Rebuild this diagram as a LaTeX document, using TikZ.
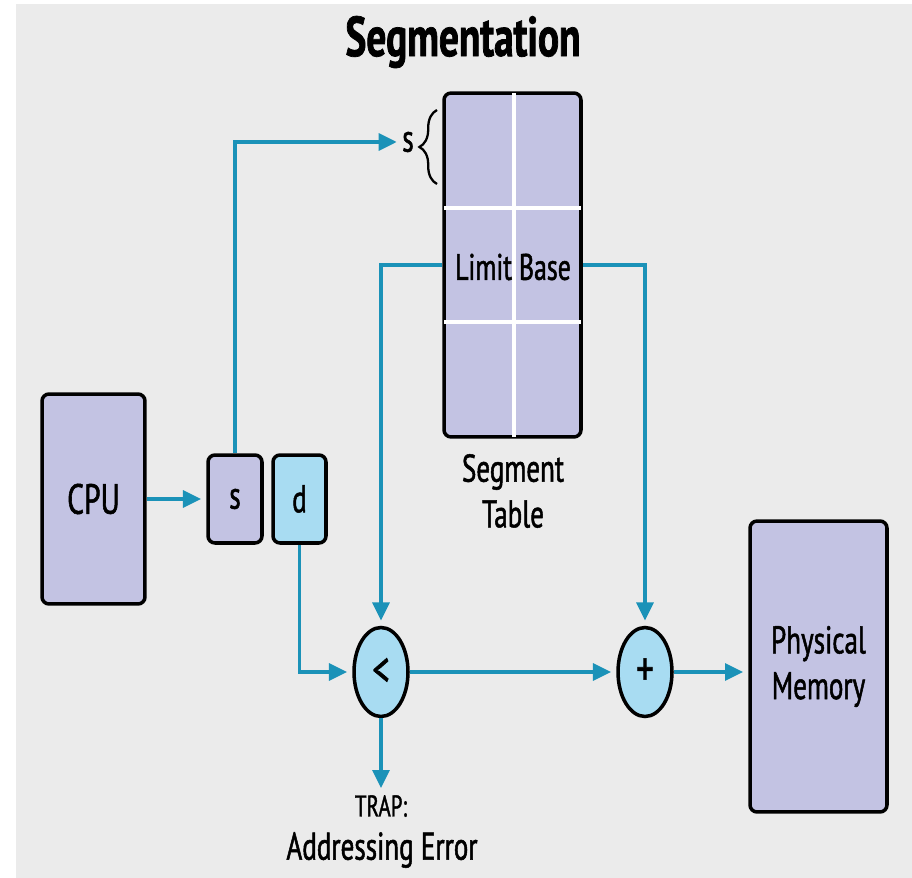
\documentclass[tikz,border=0pt]{standalone}
\usepackage{fontspec}
\setmainfont{PT Sans}[FakeStretch=0.7, FakeBold=1.3]
\usetikzlibrary{arrows.meta,shapes.geometric,decorations.pathreplacing}
\definecolor{bggray}{HTML}{EBEBEB}
\definecolor{lavender}{HTML}{C3C3E3}
\definecolor{skyblue}{HTML}{A8DCF2}
\definecolor{teal}{HTML}{1B92B8}

\begin{document}
\begin{tikzpicture}[
	x=0.02cm, y=-0.02cm,
	box/.style={draw=black, line width=2pt, rounded corners=4pt, fill=lavender, align=center,
		font=\fontsize{22}{26}\selectfont, inner sep=0pt},
	oper/.style={ellipse, draw=black, line width=2pt, fill=skyblue, minimum width=1.08cm,
		minimum height=1.78cm, inner sep=0pt, font=\fontsize{28}{30}\selectfont},
	link/.style={draw=teal, line width=1.9pt, -{Triangle[length=0.36cm,width=0.34cm]}, shorten >=3pt},
	lbl/.style={align=center, inner sep=0pt, font=\fontsize{22}{26}\selectfont}]
\useasboundingbox (0,0) rectangle (912,878);
\fill[bggray] (16,4) rectangle (912,878);

\node[font=\bfseries\fontsize{32}{36}\selectfont] (title) at (463,42) {Segmentation};

% boxes
\node[box, minimum width=2.06cm, minimum height=4.2cm, font=\fontsize{24}{28}\selectfont] (cpu) at (93.5,499) {CPU};
\node[box, minimum width=1.08cm, minimum height=1.76cm] (sbox) at (235,499) {s};
\node[box, fill=skyblue, minimum width=1.06cm, minimum height=1.76cm] (dbox) at (299.5,499) {d};
\node[box, minimum width=2.74cm, minimum height=6.88cm] (table) at (512.5,265) {};
\draw[white, line width=1.8pt, shorten <=1.2pt, shorten >=1.2pt] (table.north -| 514,0) -- (table.south -| 514,0);
\draw[white, line width=1.8pt, shorten <=1.2pt, shorten >=1.2pt] (table.west |- 0,208) -- (table.east |- 0,208);
\draw[white, line width=1.8pt, shorten <=1.2pt, shorten >=1.2pt] (table.west |- 0,322) -- (table.east |- 0,322);
\node[lbl, font=\fontsize{21}{25}\selectfont] (limbase) at (513,267) {Limit Base};
\node[lbl] (tabname) at (513,491) {Segment\\Table};
\node[box, minimum width=2.74cm, minimum height=5.82cm] (mem) at (818.5,666.5) {Physical\\Memory};

% operators
\node[oper] (lt) at (381,672) {<};
\node[oper] (plus) at (645,672) {+};

% s index into table
\node[lbl] (sidx) at (408,142) {s};
\draw[line width=1.3pt, decorate, decoration={brace, amplitude=10pt}] (437,184) -- (437,110);

\coordinate (trap) at (381,788);
\node[lbl, font=\fontsize{17}{20}\selectfont] (traptxt) at (381,806) {TRAP:};
\node[lbl] (adderr) at (382,850) {Addressing Error};

% connectors
\draw[link] (cpu.east) -- (sbox.west);
\draw[link] (sbox.north) |- (sidx.west);
\draw[link] (table.west) -| (lt.north);
\draw[link] (table.east) -| (plus.north);
\draw[link] (dbox.south) |- (lt.west);
\draw[link] (lt.east) -- (plus.west);
\draw[link] (plus.east) -- (plus.east -| mem.west);
\draw[link, shorten >=0pt] (lt.south) -- (trap);
\end{tikzpicture}
\end{document}
